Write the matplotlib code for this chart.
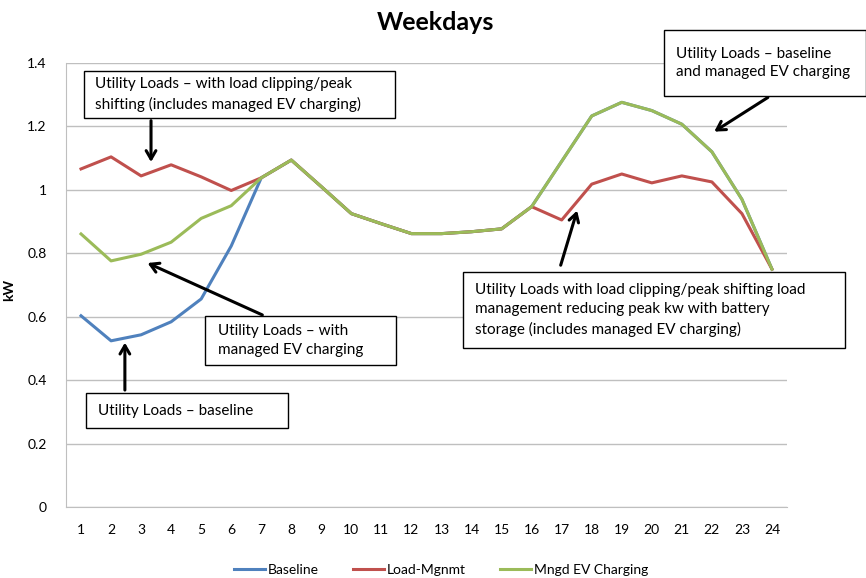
import matplotlib
matplotlib.use("Agg")
import matplotlib.pyplot as plt
from matplotlib.patches import Rectangle

plt.rcParams['font.family'] = ['Lato', 'DejaVu Sans']

# ---------------- donnees ----------------
heures = list(range(1, 25))
baseline = [0.603, 0.524, 0.543, 0.584, 0.656, 0.823, 1.038, 1.094, 1.010, 0.925,
            0.893, 0.862, 0.862, 0.868, 0.877, 0.947, 1.090, 1.233, 1.276, 1.250,
            1.207, 1.120, 0.970, 0.750]
load_mgnmt = [1.066, 1.104, 1.044, 1.079, 1.041, 0.998, 1.038, 1.094, 1.010, 0.925,
              0.893, 0.862, 0.862, 0.868, 0.877, 0.947, 0.905, 1.018, 1.050, 1.022,
              1.044, 1.025, 0.925, 0.750]
mngd_ev = [0.861, 0.776, 0.797, 0.835, 0.910, 0.950, 1.038, 1.094, 1.010, 0.925,
           0.893, 0.862, 0.862, 0.868, 0.877, 0.947, 1.090, 1.233, 1.276, 1.250,
           1.207, 1.120, 0.970, 0.750]

W, H = 866, 578
fig = plt.figure(figsize=(W / 100, H / 100), dpi=100)
ax = fig.add_axes([66 / W, 1 - 507 / H, (787 - 66) / W, (507 - 63) / H])

ax.plot(heures, baseline, color='#4F81BD', lw=2.2, label='Baseline')
ax.plot(heures, load_mgnmt, color='#C0504D', lw=2.2, label='Load-Mgnmt')
ax.plot(heures, mngd_ev, color='#9BBB59', lw=2.2, label='Mngd EV Charging')

ax.set_xlim(0.5, 24.5)
ax.set_ylim(0, 1.4)
ax.set_xticks(heures)
ax.set_yticks([0, 0.2, 0.4, 0.6, 0.8, 1.0, 1.2, 1.4])
ax.set_yticklabels(['0', '0.2', '0.4', '0.6', '0.8', '1', '1.2', '1.4'])
ax.tick_params(length=0, labelsize=10, colors='black')
ax.tick_params(axis='x', pad=12)
ax.tick_params(axis='y', pad=14)
ax.grid(axis='y', color='#BFBFBF', lw=1)
ax.set_axisbelow(True)
for s in ['top', 'right']:
    ax.spines[s].set_visible(False)
for s in ['left', 'bottom']:
    ax.spines[s].set_color('#BFBFBF')
ax.set_ylabel('kW', fontsize=10, fontweight='bold')
ax.yaxis.set_label_coords(-51 / 721, 0.49)

fig.text(435 / W, 1 - 23 / H, 'Weekdays', ha='center', va='center',
         fontsize=18, fontweight='bold')

fig.legend(loc='center', bbox_to_anchor=(441 / W, 1 - 570 / H), ncol=3,
           frameon=False, fontsize=10, handlelength=2.2, columnspacing=2.5,
           handletextpad=0.2)


# ---------------- annotations ----------------
def boite(x0, y0, x1, y1, tx, txt):
    fig.patches.append(Rectangle((x0 / W, 1 - y1 / H), (x1 - x0) / W, (y1 - y0) / H,
                                 transform=fig.transFigure, fill=True, facecolor='white',
                                 edgecolor='black', lw=1, zorder=5))
    fig.text(tx / W, 1 - (y0 + y1) / 2 / H, txt, ha='left', va='center', fontsize=11,
             linespacing=1.45, zorder=6)


def fleche(x0, y0, x1, y1):
    ax.annotate('', xy=(x1, y1), xytext=(x0, y0),
                arrowprops=dict(arrowstyle='->,head_length=0.6,head_width=0.35',
                                color='black', lw=2.2))


boite(84, 71, 395, 118, 95, 'Utility Loads – with load clipping/peak\nshifting (includes managed EV charging)')
boite(664, 30, 866, 96, 676, 'Utility Loads – baseline\nand managed EV charging')
boite(463, 272, 845, 348, 475, 'Utility Loads with load clipping/peak shifting load\n'
      'management reducing peak kw with battery\nstorage (includes managed EV charging)')
boite(205, 316, 396, 365, 218, 'Utility Loads – with\nmanaged EV charging')
boite(86, 393, 288, 428, 98, 'Utility Loads – baseline')

fleche(3.33, 1.227, 3.33, 1.079)
fleche(23.94, 1.296, 22.0, 1.179)
fleche(16.94, 0.754, 17.54, 0.943)
fleche(7.12, 0.602, 3.13, 0.773)
fleche(2.46, 0.36, 2.46, 0.527)

fig.savefig('out.png', dpi=100)
